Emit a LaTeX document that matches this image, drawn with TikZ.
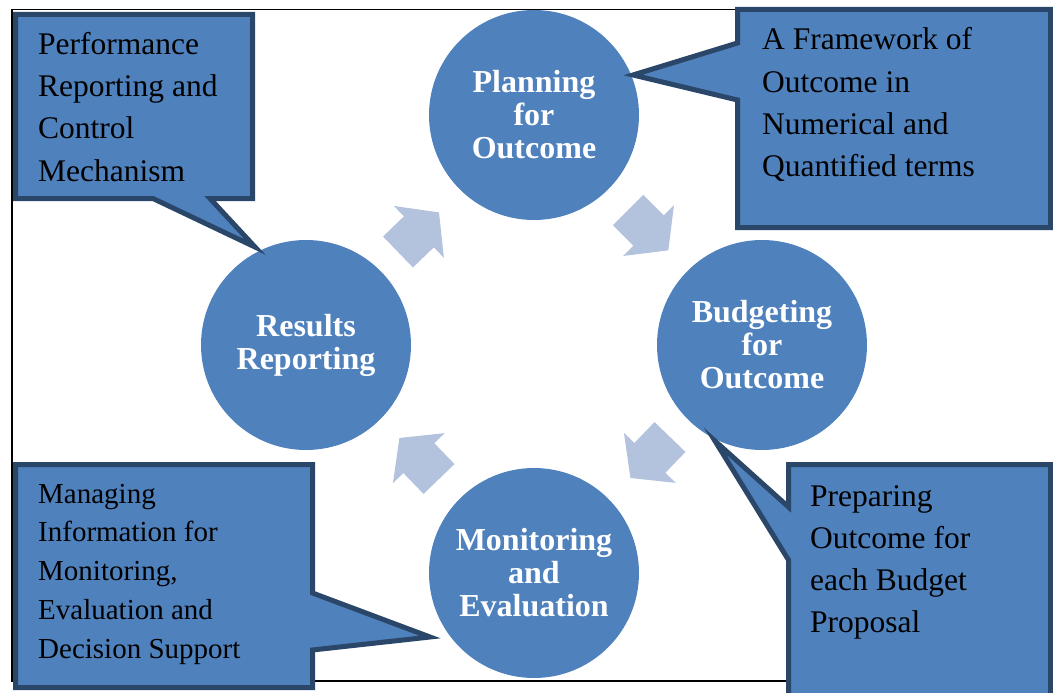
\documentclass[tikz,border=0pt]{standalone}
\usepackage{fontspec}
\setmainfont{Liberation Serif}
\definecolor{cyclefill}{HTML}{4F81BD}
\definecolor{calloutline}{HTML}{2A4668}
\definecolor{arrowfill}{HTML}{B3C2DD}

\begin{document}
\begin{tikzpicture}[x=1pt,y=-1pt,
  stage/.style={circle, fill=cyclefill, minimum size=210pt, inner sep=0pt,
    text=white, align=center, font=\bfseries\fontsize{32}{33}\selectfont},
  bubble/.style={fill=cyclefill, draw=calloutline, line width=5pt,
    line join=miter, miter limit=20},
  note/.style={anchor=base west, inner sep=0pt, text=black},
  bignote/.style={note, font=\fontsize{31.5}{42.2}\selectfont},
  cyclearrow/.style={fill=arrowfill}
]
\useasboundingbox (0,0) rectangle (1053,693);
\clip (0,0) rectangle (1053,693);

% outer frame
\draw[line width=1.4pt] (12,9.5) rectangle (1070,681);

% the four stages of the cycle
\node[stage] (plan)   at (534,115) {Planning\\for\\Outcome};
\node[stage] (budget) at (762,345) {Budgeting\\for\\Outcome};
\node[stage] (mon)    at (534,573) {Monitoring\\and\\Evaluation};
\node[stage] (res)    at (306,345) {Results\\Reporting};

% block arrows running clockwise between the stages
\fill[cyclearrow, shift={(398,252)}, rotate=44]
  (0,21.5) -- (29,21.5) -- (29,36) -- (57,0) -- (29,-36) -- (29,-21.5) -- (0,-21.5) -- cycle;
\fill[cyclearrow, shift={(628,210)}, rotate=-45]
  (0,21.5) -- (29,21.5) -- (29,36) -- (57,0) -- (29,-36) -- (29,-21.5) -- (0,-21.5) -- cycle;
\fill[cyclearrow, shift={(670,437)}, rotate=-134]
  (0,21.5) -- (29,21.5) -- (29,36) -- (57,0) -- (29,-36) -- (29,-21.5) -- (0,-21.5) -- cycle;
\fill[cyclearrow, shift={(439,479)}, rotate=134]
  (0,21.5) -- (29,21.5) -- (29,36) -- (57,0) -- (29,-36) -- (29,-21.5) -- (0,-21.5) -- cycle;

% callouts
\draw[bubble] (15.5,14.5) -- (252.5,14.5) -- (252.5,198.5) -- (210,198.5)
  -- (255,247) -- (153,198.5) -- (15.5,198.5) -- cycle;
\draw[bubble] (737.5,9.5) -- (1050.5,9.5) -- (1050.5,227.5) -- (737.5,227.5)
  -- (737.5,100) -- (633,75) -- (737.5,43) -- cycle;
\draw[bubble] (788.5,464.5) -- (1050.5,464.5) -- (1050.5,710) -- (788.5,710)
  -- (788.5,560) -- (715,441) -- (788.5,507) -- cycle;
\draw[bubble] (15.5,464.5) -- (312.5,464.5) -- (312.5,593) -- (430,637)
  -- (312.5,650) -- (312.5,687.5) -- (15.5,687.5) -- cycle;

% callout texts
\node[bignote] (perf) at (38,54.5)
  {\parbox[t]{220pt}{\raggedright Performance\\Reporting and\\Control\\Mechanism}};
\node[bignote] (frame) at (762,50)
  {\parbox[t]{285pt}{\raggedright A Framework of\\Outcome in\\Numerical and\\Quantified terms}};
\node[bignote] (prep) at (810,506)
  {\parbox[t]{235pt}{\raggedright Preparing\\Outcome for\\each Budget\\Proposal}};
\node[note, font=\fontsize{29}{38.8}\selectfont] (info) at (38,503)
  {\parbox[t]{270pt}{\raggedright Managing\\Information for\\Monitoring,\\Evaluation and\\Decision Support}};
\end{tikzpicture}
\end{document}
